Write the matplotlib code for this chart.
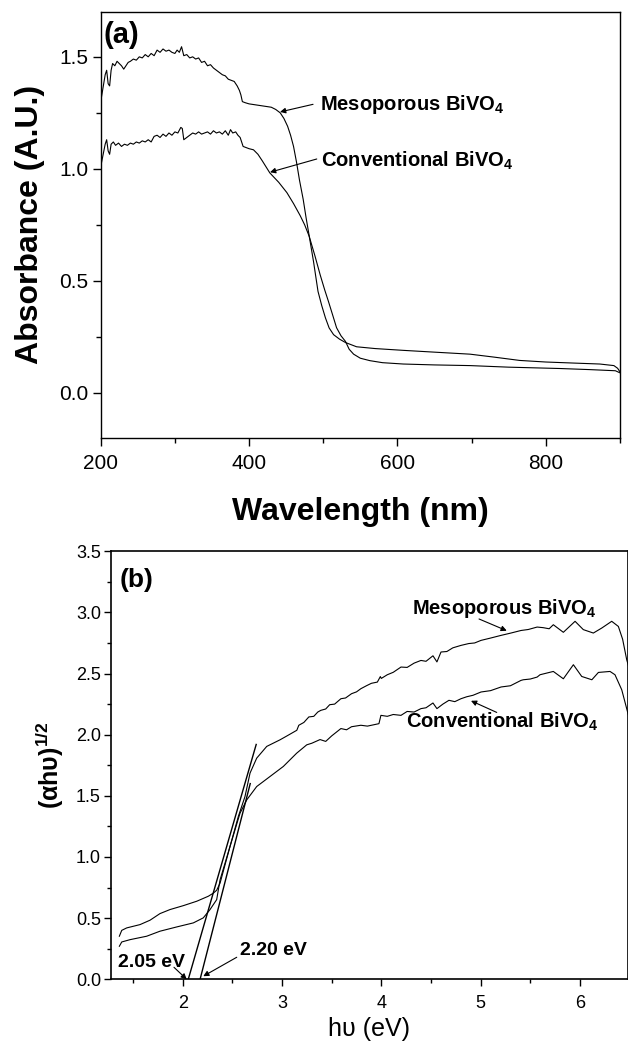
import numpy as np
import matplotlib.pyplot as plt

# ====== Data ======
# (a) absorbance spectra
meso_wl = [200, 203, 206, 208, 210, 212, 214, 216, 219, 222, 225, 228, 231, 234, 237, 240,
           244, 248, 252, 256, 260, 264, 268, 272, 276, 280, 284, 288, 292, 296, 300, 303,
           306, 309, 312, 316, 320, 324, 328, 332, 336, 340, 344, 348, 352, 356, 360, 364,
           368, 372, 376, 380, 384, 387, 389, 391, 395, 400, 410, 420, 430, 436, 442, 447,
           452, 456, 460, 464, 468, 473, 477, 481, 487, 493, 498, 503, 508, 514, 522, 530,
           545, 570, 608, 650, 698, 730, 765, 800, 840, 873, 892, 897, 900]
meso_abs = [1.30, 1.36, 1.42, 1.44, 1.38, 1.37, 1.44, 1.47, 1.46, 1.48, 1.47, 1.46, 1.445, 1.46,
            1.475, 1.48, 1.49, 1.485, 1.50, 1.495, 1.51, 1.50, 1.515, 1.505, 1.53, 1.52, 1.535,
            1.525, 1.53, 1.52, 1.515, 1.53, 1.52, 1.545, 1.505, 1.51, 1.495, 1.50, 1.49, 1.495,
            1.475, 1.48, 1.46, 1.465, 1.45, 1.44, 1.43, 1.42, 1.415, 1.40, 1.395, 1.39, 1.37,
            1.35, 1.33, 1.30, 1.295, 1.29, 1.285, 1.28, 1.275, 1.265, 1.25, 1.225, 1.19, 1.15,
            1.10, 1.03, 0.95, 0.864, 0.78, 0.703, 0.585, 0.453, 0.39, 0.335, 0.29, 0.26, 0.24,
            0.225, 0.206, 0.198, 0.19, 0.182, 0.173, 0.16, 0.145, 0.138, 0.133, 0.129, 0.122,
            0.11, 0.095]

conv_wl = [200, 203, 206, 208, 210, 212, 214, 217, 220, 224, 228, 232, 236, 240, 244, 248,
           252, 256, 260, 264, 268, 272, 276, 280, 284, 288, 292, 296, 300, 304, 308, 310,
           312, 316, 320, 324, 328, 332, 336, 340, 344, 348, 352, 356, 360, 364, 368, 372,
           375, 378, 382, 385, 388, 390, 392, 396, 400, 406, 412, 418, 428, 440, 451, 460,
           469, 475, 481, 489, 496, 502, 507, 513, 518, 524, 530, 535, 541, 550, 563, 580,
           608, 650, 698, 750, 819, 860, 894, 900]
conv_abs = [1.01, 1.06, 1.11, 1.13, 1.08, 1.065, 1.11, 1.12, 1.105, 1.115, 1.10, 1.11, 1.105,
            1.115, 1.11, 1.12, 1.115, 1.125, 1.12, 1.13, 1.12, 1.145, 1.15, 1.14, 1.155, 1.145,
            1.16, 1.15, 1.165, 1.16, 1.185, 1.18, 1.13, 1.14, 1.15, 1.16, 1.155, 1.165, 1.155,
            1.16, 1.165, 1.155, 1.17, 1.16, 1.165, 1.155, 1.17, 1.15, 1.175, 1.16, 1.165, 1.15,
            1.14, 1.12, 1.10, 1.095, 1.09, 1.085, 1.065, 1.035, 0.982, 0.94, 0.894, 0.845,
            0.791, 0.75, 0.70, 0.61, 0.526, 0.46, 0.409, 0.345, 0.291, 0.255, 0.23, 0.195,
            0.173, 0.155, 0.144, 0.135, 0.129, 0.125, 0.122, 0.115, 0.109, 0.104, 0.099, 0.09]

# (b) Tauc plot
meso_ev = [1.362, 1.386, 1.436, 1.57, 1.671, 1.771, 1.872, 2.006, 2.141, 2.258, 2.308, 2.342,
           2.376, 2.476, 2.56, 2.627, 2.678, 2.745, 2.846, 2.98, 3.05, 3.149, 3.169, 3.22,
           3.27, 3.32, 3.36, 3.391, 3.44, 3.48, 3.53, 3.593, 3.64, 3.70, 3.75, 3.794, 3.85,
           3.90, 3.96, 3.99, 4.0, 4.06, 4.12, 4.198, 4.26, 4.33, 4.399, 4.45, 4.52, 4.56,
           4.601, 4.66, 4.72, 4.802, 4.88, 4.94, 5.004, 5.10, 5.206, 5.30, 5.407, 5.48, 5.569,
           5.63, 5.69, 5.732, 5.833, 5.951, 6.034, 6.135, 6.22, 6.32, 6.387, 6.43, 6.471, 6.49]
meso_val = [0.352, 0.40, 0.42, 0.447, 0.483, 0.537, 0.57, 0.602, 0.638, 0.679, 0.704, 0.728,
            0.786, 1.085, 1.331, 1.494, 1.686, 1.808, 1.904, 1.958, 1.99, 2.036, 2.077, 2.10,
            2.145, 2.15, 2.185, 2.199, 2.21, 2.245, 2.25, 2.294, 2.30, 2.335, 2.35, 2.376,
            2.40, 2.42, 2.43, 2.475, 2.46, 2.49, 2.51, 2.553, 2.55, 2.585, 2.607, 2.60, 2.645,
            2.595, 2.676, 2.68, 2.71, 2.73, 2.745, 2.75, 2.771, 2.79, 2.812, 2.83, 2.852, 2.86,
            2.88, 2.875, 2.866, 2.899, 2.837, 2.927, 2.859, 2.831, 2.872, 2.927, 2.885, 2.78,
            2.613, 2.56]

conv_ev = [1.362, 1.386, 1.47, 1.637, 1.771, 1.94, 2.107, 2.207, 2.275, 2.342, 2.376, 2.476,
           2.577, 2.645, 2.745, 2.879, 3.013, 3.148, 3.249, 3.30, 3.383, 3.44, 3.50, 3.593,
           3.65, 3.70, 3.794, 3.86, 3.976, 3.996, 4.06, 4.12, 4.198, 4.26, 4.33, 4.399, 4.45,
           4.52, 4.56, 4.62, 4.681, 4.74, 4.802, 4.86, 4.923, 5.004, 5.10, 5.206, 5.30, 5.407,
           5.43, 5.5, 5.569, 5.598, 5.732, 5.833, 5.934, 6.018, 6.12, 6.186, 6.303, 6.353,
           6.421, 6.487]
conv_val = [0.27, 0.305, 0.324, 0.352, 0.393, 0.428, 0.461, 0.502, 0.57, 0.651, 0.813, 1.085,
            1.358, 1.467, 1.576, 1.658, 1.74, 1.849, 1.917, 1.93, 1.96, 1.945, 1.99, 2.05,
            2.04, 2.065, 2.077, 2.07, 2.09, 2.158, 2.15, 2.165, 2.158, 2.19, 2.185, 2.213,
            2.22, 2.259, 2.213, 2.25, 2.281, 2.27, 2.294, 2.31, 2.322, 2.349, 2.36, 2.39, 2.40,
            2.444, 2.449, 2.455, 2.471, 2.49, 2.517, 2.457, 2.572, 2.476, 2.449, 2.509, 2.517,
            2.49, 2.367, 2.163]

# tangent lines used for the band-gap estimate
tangent_a_x = [2.056, 2.74]
tangent_a_y = [0.0, 1.92]
tangent_b_x = [2.175, 2.68]
tangent_b_y = [0.0, 1.60]

plt.rcParams["font.family"] = ["Liberation Sans", "DejaVu Sans"]
plt.rcParams["mathtext.default"] = "regular"

fig = plt.figure(figsize=(6.28, 10.43), dpi=100)

# ====== (a) absorbance ======
ax1 = fig.add_axes([0.1604, 0.5803, 0.8266, 0.4082])
ax1.plot(meso_wl, meso_abs, color="black", lw=0.8)
ax1.plot(conv_wl, conv_abs, color="black", lw=0.8)
ax1.set_xlim(200, 900)
ax1.set_ylim(-0.2, 1.7)
ax1.set_xticks([200, 400, 600, 800])
ax1.set_xticks([300, 500, 700, 900], minor=True)
ax1.set_yticks([0.0, 0.5, 1.0, 1.5])
ax1.set_yticks([0.25, 0.75, 1.25], minor=True)
ax1.set_yticklabels(["0.0", "0.5", "1.0", "1.5"])
ax1.tick_params(which="major", direction="out", length=6, width=1, labelsize=15, pad=6)
ax1.tick_params(axis="y", which="major", pad=3)
ax1.tick_params(which="minor", direction="out", length=3.5, width=1)
for s in ax1.spines.values():
    s.set_linewidth(1.0)

ax1.set_xlabel("Wavelength (nm)", fontsize=23, fontweight="bold")
ax1.xaxis.set_label_coords(0.5, -0.139)
ax1.set_ylabel("Absorbance (A.U.)", fontsize=23, fontweight="bold")
ax1.yaxis.set_label_coords(-0.108, 0.5)
ax1.text(0.005, 0.978, "(a)", transform=ax1.transAxes, fontsize=21,
         fontweight="bold", ha="left", va="top")

ax1.text(495.8, 1.262, "Mesoporous BiVO$_4$", fontsize=14.5, fontweight="bold",
         ha="left", va="baseline")
ax1.text(497, 1.011, "Conventional BiVO$_4$", fontsize=14.5, fontweight="bold",
         ha="left", va="baseline")
arrow = dict(arrowstyle="-|>", color="black", lw=0.8, mutation_scale=8,
             shrinkA=0, shrinkB=0)
ax1.annotate("", xy=(441.8, 1.254), xytext=(486.3, 1.288), arrowprops=arrow)
ax1.annotate("", xy=(428.3, 0.985), xytext=(491.3, 1.044), arrowprops=arrow)

# ====== (b) Tauc plot ======
ax2 = fig.add_axes([0.1763, 0.0611, 0.8237, 0.4104])
ax2.plot(meso_ev, meso_val, color="black", lw=0.8)
ax2.plot(conv_ev, conv_val, color="black", lw=0.8)
ax2.plot(tangent_a_x, tangent_a_y, color="black", lw=1.0)
ax2.plot(tangent_b_x, tangent_b_y, color="black", lw=1.0)
ax2.set_xlim(1.275, 6.484)
ax2.set_ylim(0, 3.5)
ax2.set_xticks([2, 3, 4, 5, 6])
ax2.set_xticks([1.5, 2.5, 3.5, 4.5, 5.5], minor=True)
ax2.set_yticks(np.arange(0, 3.51, 0.5))
ax2.set_yticks(np.arange(0.25, 3.5, 0.5), minor=True)
ax2.set_yticklabels(["0.0", "0.5", "1.0", "1.5", "2.0", "2.5", "3.0", "3.5"])
ax2.tick_params(which="major", direction="out", length=5, width=1, labelsize=13, pad=6)
ax2.tick_params(axis="y", which="major", pad=2)
ax2.tick_params(which="minor", direction="out", length=3, width=1)
for s in ax2.spines.values():
    s.set_linewidth(1.2)

ax2.set_xlabel("hυ (eV)", fontsize=18)
ax2.xaxis.set_label_coords(0.5, -0.088)
ax2.set_ylabel("(αhυ)$^{1/2}$", fontsize=18, fontweight="bold")
ax2.yaxis.set_label_coords(-0.087, 0.5)
ax2.text(0.018, 0.961, "(b)", transform=ax2.transAxes, fontsize=19,
         fontweight="bold", ha="left", va="top")

ax2.text(4.306, 2.984, "Mesoporous BiVO$_4$", fontsize=14.5, fontweight="bold",
         ha="left", va="baseline")
ax2.text(4.249, 2.054, "Conventional BiVO$_4$", fontsize=14.5, fontweight="bold",
         ha="left", va="baseline")
ax2.annotate("", xy=(5.263, 2.850), xytext=(4.984, 2.946), arrowprops=arrow)
ax2.annotate("", xy=(4.903, 2.277), xytext=(5.162, 2.182), arrowprops=arrow)

ax2.text(1.351, 0.098, "2.05 eV", fontsize=14, fontweight="bold", ha="left", va="baseline")
ax2.text(2.577, 0.20, "2.20 eV", fontsize=14, fontweight="bold", ha="left", va="baseline")
ax2.annotate("", xy=(2.04, 0.0), xytext=(1.912, 0.098), arrowprops=arrow)
ax2.annotate("", xy=(2.207, 0.025), xytext=(2.544, 0.18), arrowprops=arrow)

fig.savefig("out.png", dpi=100)
